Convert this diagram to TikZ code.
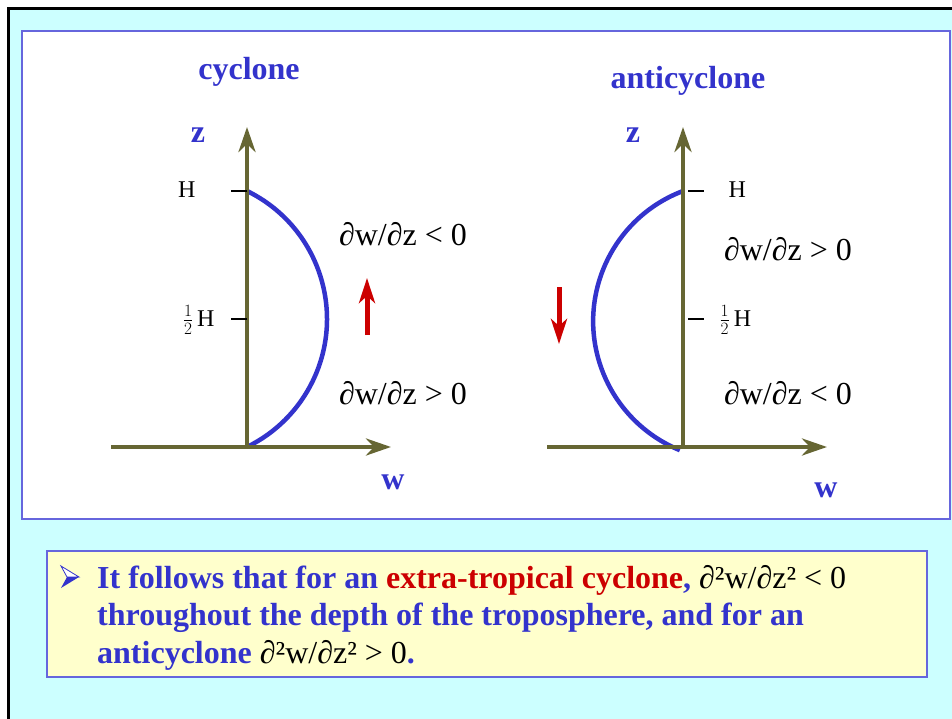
\documentclass[tikz,border=0pt]{standalone}
\usepackage{fontspec}
\setmainfont{Liberation Serif}
\usetikzlibrary{arrows.meta}

\begin{document}
\begin{tikzpicture}[x=1pt,y=-1pt,
  asse/.style={colAsse, line width=4.5pt, -{Stealth[length=25pt,width=17pt,inset=8pt]}},
  curva/.style={colBlu, line width=4.5pt},
  tacca/.style={black, line width=1.3pt},
  moto/.style={colRosso, line width=5pt, -{Stealth[length=25pt,width=16pt,inset=7pt]}},
  titolo/.style={font=\fontsize{32}{38}\selectfont\bfseries, text=colBlu},
  quota/.style={font=\fontsize{24}{28}\selectfont},
  derivata/.style={font=\fontsize{32}{38}\selectfont}]

% Colori
\definecolor{colSfondo}{HTML}{CCFFFF}
\definecolor{colBlu}{HTML}{3333CC}
\definecolor{colBordo}{HTML}{6666DD}
\definecolor{colGiallo}{HTML}{FFFFCC}
\definecolor{colAsse}{HTML}{666633}
\definecolor{colRosso}{HTML}{CC0000}

% Riquadri
\useasboundingbox (0,0) rectangle (952,719);
\fill[white] (0,0) rectangle (952,719);
\fill[colSfondo] (8.5,8.5) rectangle (952,719);
\draw[black, line width=3pt] (8.5,719) -- (8.5,8.5) -- (952,8.5);
\draw[colBordo, fill=white, line width=1.5pt] (22,31) rectangle (950,519);
\draw[colBordo, fill=colGiallo, line width=1.5pt] (47,551) rectangle (927,677);

% Ciclone
\coordinate (cO) at (247,447);
\coordinate (cZ) at (247,127);
\coordinate (cW0) at (111,447);
\coordinate (cW) at (391,447);
\coordinate (cH) at (247,191);
\coordinate (cM) at (247,319);
\node[titolo, anchor=base] (cTit) at (249,80) {cyclone};
\draw[curva] (cH) arc[start angle=-64, end angle=64, radius=142.4];
\draw[asse] (cO) -- (cZ);
\draw[asse] (cW0) -- (cW);
\draw[tacca] (cH) -- ++(-16,0);
\draw[tacca] (cM) -- ++(-16,0);
\node[titolo, anchor=base] (cZl) at (198,143) {z};
\node[titolo, anchor=base] (cWl) at (393,489) {w};
\node[quota, anchor=base east] (cHl) at (199,198) {H};
\node[quota, anchor=base east] (cMl) at (218,326) {$\frac{1}{2}$\,H};
\node[derivata, anchor=base] (cDs) at (403,246) {∂w/∂z < 0};
\node[derivata, anchor=base] (cDi) at (403,404) {∂w/∂z > 0};
\coordinate (cSu0) at (367,335);
\coordinate (cSu1) at (367,278);
\draw[moto] (cSu0) -- (cSu1);

% Anticiclone
\coordinate (aO) at (683,447);
\coordinate (aZ) at (683,127);
\coordinate (aW0) at (547,447);
\coordinate (aW) at (827,447);
\coordinate (aH) at (683,191);
\coordinate (aM) at (683,319);
\node[titolo, anchor=base] (aTit) at (688,89) {anticyclone};
\draw[curva] (aH) arc[start angle=-110.8, end angle=-247.8, radius=139.3];
\draw[asse] (aO) -- (aZ);
\draw[asse] (aW0) -- (aW);
\draw[tacca] ([xshift=5pt]aH) -- ++(16,0);
\draw[tacca] ([xshift=5pt]aM) -- ++(16,0);
\node[titolo, anchor=base] (aZl) at (633,143) {z};
\node[titolo, anchor=base] (aWl) at (826,497) {w};
\node[quota, anchor=base west] (aHl) at (725,198) {H};
\node[quota, anchor=base west] (aMl) at (716,326) {$\frac{1}{2}$\,H};
\node[derivata, anchor=base] (aDs) at (788,260) {∂w/∂z > 0};
\node[derivata, anchor=base] (aDi) at (788,404) {∂w/∂z < 0};
\coordinate (aGiu0) at (559,287);
\coordinate (aGiu1) at (559,344);
\draw[moto] (aGiu0) -- (aGiu1);

% Punto elenco
\draw[colBlu, line width=0.8pt, fill=white] (61,566) -- (79,577) -- (67,577) -- cycle;
\fill[colBlu] (67,577) -- (79,577) -- (61,588) -- cycle;

% Conclusione
\node[anchor=base west, align=left, inner sep=0pt, text=colBlu,
      font=\fontsize{32}{37.5}\selectfont\bfseries] (testo) at (97,663)
  {It follows that for an \textcolor{colRosso}{extra-tropical cyclone}, {\mdseries\color{black}∂²w/∂z² < 0}\\
   throughout the depth of the troposphere, and for an\\
   anticyclone {\mdseries\color{black}∂²w/∂z² > 0}.};

\end{tikzpicture}
\end{document}
